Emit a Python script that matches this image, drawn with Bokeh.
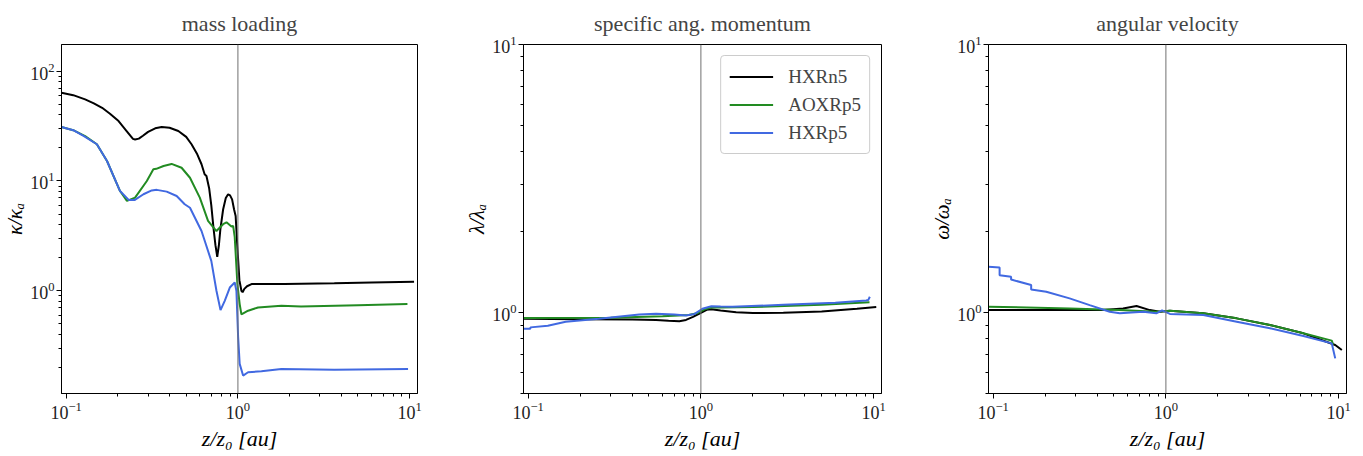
from bokeh.plotting import figure
from bokeh.layouts import row
from bokeh.models import Span, FixedTicker, LogTickFormatter, Range1d
from bokeh.embed import file_html
from bokeh.resources import INLINE

# ---------------- data ----------------
series_names = ["HXRn5", "AOXRp5", "HXRp5"]
series_colors = ["black", "forestgreen", "royalblue"]

# mass loading kappa/kappa_a
k_x_hxrn5 = [0.094, 0.11, 0.129, 0.145, 0.162, 0.18, 0.202, 0.225, 0.245, 0.252, 0.265, 0.28, 0.30,
             0.33, 0.36, 0.40, 0.45, 0.50, 0.537, 0.58, 0.614, 0.64, 0.656, 0.68, 0.70, 0.72, 0.74,
             0.758, 0.775, 0.79, 0.82, 0.85, 0.877, 0.90, 0.925, 0.95, 0.97, 0.993, 1.02, 1.048,
             1.065, 1.09, 1.13, 1.2, 1.4, 1.87, 3.64, 6.0, 10.6]
k_y_hxrn5 = [63.5, 60.5, 55.3, 51.0, 46.4, 41.0, 35.1, 28.5, 24.2, 23.9, 24.3, 25.8, 28.0,
             30.2, 31.0, 30.5, 28.5, 25.2, 21.6, 17.5, 14.2, 11.5, 11.1, 8.6, 6.0, 3.8, 2.6,
             2.04, 2.6, 3.6, 5.5, 7.0, 7.57, 7.4, 6.8, 5.5, 4.8, 2.48, 1.25, 1.0,
             0.97, 1.04, 1.1, 1.15, 1.15, 1.15, 1.17, 1.19, 1.21]
k_x_aoxrp5 = [0.094, 0.11, 0.129, 0.151, 0.173, 0.206, 0.226, 0.252, 0.295, 0.322, 0.335, 0.369,
              0.411, 0.47, 0.526, 0.60, 0.67, 0.75, 0.82, 0.858, 0.917, 0.938, 0.958, 0.993,
              1.024, 1.048, 1.146, 1.31, 1.79, 2.33, 5.0, 9.7]
k_y_aoxrp5 = [31.0, 29.0, 25.6, 21.6, 15.2, 8.1, 6.58, 7.05, 10.0, 12.8, 12.9, 13.7,
              14.3, 13.2, 10.7, 7.05, 4.33, 3.5, 4.04, 4.2, 3.85, 3.9, 3.1, 1.15,
              0.757, 0.61, 0.658, 0.705, 0.73, 0.72, 0.74, 0.757]
k_x_hxrp5 = [0.094, 0.11, 0.127, 0.151, 0.173, 0.206, 0.232, 0.25, 0.282, 0.315, 0.337, 0.385,
             0.44, 0.49, 0.526, 0.614, 0.70, 0.75, 0.792, 0.838, 0.897, 0.958, 0.98, 1.003,
             1.024, 1.072, 1.146, 1.37, 1.79, 3.64, 9.78]
k_y_hxrp5 = [31.0, 29.0, 25.6, 21.6, 15.2, 8.1, 6.7, 6.7, 7.57, 8.2, 8.3, 8.0,
             7.3, 6.14, 5.7, 3.5, 1.87, 1.0, 0.667, 0.81, 1.07, 1.19, 1.0, 0.377,
             0.216, 0.169, 0.181, 0.185, 0.194, 0.191, 0.194]

# specific angular momentum lambda/lambda_a
l_x_hxrn5 = [0.094, 0.2, 0.4, 0.55, 0.65, 0.75, 0.82, 0.9, 1.0, 1.08, 1.15, 1.3, 1.6, 2.0, 3.0,
             5.0, 8.0, 10.35]
l_y_hxrn5 = [0.950, 0.946, 0.943, 0.940, 0.933, 0.930, 0.940, 0.965, 1.0, 1.025, 1.03, 1.02,
             1.005, 0.998, 1.0, 1.01, 1.035, 1.05]
l_x_aoxrp5 = [0.094, 0.3, 0.6, 0.85, 0.95, 1.05, 1.15, 1.3, 2.0, 5.0, 9.46]
l_y_aoxrp5 = [0.955, 0.958, 0.97, 0.98, 0.995, 1.03, 1.045, 1.045, 1.05, 1.07, 1.094]
l_x_hxrp5 = [0.094, 0.103, 0.103, 0.13, 0.165, 0.257, 0.44, 0.55, 0.7, 0.82, 0.92, 1.02, 1.15,
             1.3, 1.525, 3.0, 6.0, 9.05, 9.3, 9.5]
l_y_hxrp5 = [0.872, 0.872, 0.882, 0.895, 0.926, 0.950, 0.986, 0.991, 0.985, 0.977, 0.99, 1.035,
             1.058, 1.055, 1.052, 1.07, 1.09, 1.111, 1.115, 1.147]

# angular velocity omega/omega_a
w_x_hxrn5 = [0.094, 0.433, 0.565, 0.676, 0.807, 0.923, 1.055, 1.645, 2.57, 4.0, 6.25, 9.55, 10.43]
w_y_hxrn5 = [1.023, 1.023, 1.038, 1.059, 1.023, 1.009, 1.017, 0.995, 0.953, 0.9, 0.838, 0.758, 0.726]
w_x_aoxrp5 = [0.094, 0.277, 0.541, 0.88, 1.055, 1.645, 2.57, 4.0, 6.25, 9.12, 9.3]
w_y_aoxrp5 = [1.053, 1.038, 1.023, 1.009, 1.017, 0.995, 0.953, 0.9, 0.838, 0.787, 0.76]
w_x_hxrp5 = [0.094, 0.109, 0.109, 0.127, 0.127, 0.166, 0.166, 0.203, 0.277, 0.362, 0.473, 0.541,
             0.738, 0.88, 0.95, 1.055, 1.645, 2.57, 4.0, 6.25, 9.12, 9.55]
w_y_hxrp5 = [1.483, 1.476, 1.381, 1.361, 1.33, 1.268, 1.22, 1.197, 1.131, 1.068, 1.009, 0.995,
             1.009, 0.995, 1.02, 0.99, 0.98, 0.926, 0.875, 0.819, 0.769, 0.676]

titles = ["mass loading", "specific ang. momentum", "angular velocity"]
ylabels = ["κ/κₐ", "λ/λₐ", "ω/ωₐ"]
xlabel = "z/z₀ [au]"
x_limits = (0.094, 11.1)
y_limits = [(0.116, 175.0), (0.5, 10.0), (0.5, 10.0)]
x_major = [0.1, 1, 10]
x_minor = [0.2, 0.3, 0.4, 0.5, 0.6, 0.7, 0.8, 0.9, 2, 3, 4, 5, 6, 7, 8, 9]
y_major = [[1, 10, 100], [1, 10], [1, 10]]
y_minor = [[0.2, 0.3, 0.4, 0.5, 0.6, 0.7, 0.8, 0.9, 2, 3, 4, 5, 6, 7, 8, 9,
            20, 30, 40, 50, 60, 70, 80, 90],
           [0.5, 0.6, 0.7, 0.8, 0.9, 2, 3, 4, 5, 6, 7, 8, 9],
           [0.5, 0.6, 0.7, 0.8, 0.9, 2, 3, 4, 5, 6, 7, 8, 9]]

panel_data = [
    [(k_x_hxrn5, k_y_hxrn5), (k_x_aoxrp5, k_y_aoxrp5), (k_x_hxrp5, k_y_hxrp5)],
    [(l_x_hxrn5, l_y_hxrn5), (l_x_aoxrp5, l_y_aoxrp5), (l_x_hxrp5, l_y_hxrp5)],
    [(w_x_hxrn5, w_y_hxrn5), (w_x_aoxrp5, w_y_aoxrp5), (w_x_hxrp5, w_y_hxrp5)],
]

FONT = "Liberation Serif"
# (width, left border, right border)
geom = [(427, 59, 10), (464, 96, 10), (472, 97, 17)]

figs = []
for i in range(3):
    W, bl, br = geom[i]
    p = figure(width=W, height=456, x_axis_type="log", y_axis_type="log",
               x_range=Range1d(*x_limits), y_range=Range1d(*y_limits[i]),
               output_backend="svg", toolbar_location=None,
               min_border_left=bl, min_border_right=br,
               min_border_top=44, min_border_bottom=63)
    p.title.text = titles[i]
    p.title.text_font = FONT
    p.title.text_font_style = "normal"
    p.title.text_font_size = "22px"
    p.title.align = "center"
    p.title.standoff = 17
    p.grid.visible = False
    p.outline_line_color = "black"
    p.outline_line_alpha = 1.0
    p.outline_line_width = 1
    p.background_fill_color = "white"
    p.border_fill_color = "white"

    p.xaxis.ticker = FixedTicker(ticks=x_major, minor_ticks=x_minor)
    p.yaxis.ticker = FixedTicker(ticks=y_major[i], minor_ticks=y_minor[i])
    p.xaxis.formatter = LogTickFormatter()
    p.yaxis.formatter = LogTickFormatter()
    for ax in (p.xaxis, p.yaxis):
        ax.major_label_text_font = FONT
        ax.major_label_text_font_size = "18px"
        ax.major_label_text_color = "#222222"
        ax.axis_label_text_font = FONT
        ax.axis_label_text_font_style = "italic"
        ax.axis_label_text_font_size = "22px"
        ax.axis_label_text_color = "black"
        ax.major_tick_in = 0
        ax.major_tick_out = 5
        ax.minor_tick_in = 0
        ax.minor_tick_out = 3
        ax.axis_line_color = "black"
    p.xaxis.major_label_standoff = 3
    p.yaxis.major_label_standoff = 2
    p.xaxis.axis_label = xlabel
    p.yaxis.axis_label = ylabels[i]
    p.xaxis.axis_label_standoff = 4
    p.yaxis.axis_label_standoff = 0
    p.yaxis.axis_label_text_font_size = "21px"

    p.add_layout(Span(location=1, dimension="height", line_color="#707070", line_width=1))

    for (xs, ys), name, col in zip(panel_data[i], series_names, series_colors):
        if i == 1:
            p.line(xs, ys, line_color=col, line_width=2, legend_label=name)
        else:
            p.line(xs, ys, line_color=col, line_width=2)

    if i == 1:
        lg = p.legend[0]
        lg.location = "top_right"
        lg.label_text_font = FONT
        lg.label_text_font_size = "19px"
        lg.glyph_width = 44
        lg.glyph_height = 25
        lg.label_height = 25
        lg.label_standoff = 15
        lg.spacing = 3
        lg.padding = 8
        lg.margin = 11
        lg.border_line_color = "#cccccc"
        lg.border_line_alpha = 1.0
        lg.border_radius = 4
        lg.background_fill_alpha = 0.8
    figs.append(p)

layout = row(*figs, spacing=0)
open("out.html", "w").write(file_html(layout, INLINE))
